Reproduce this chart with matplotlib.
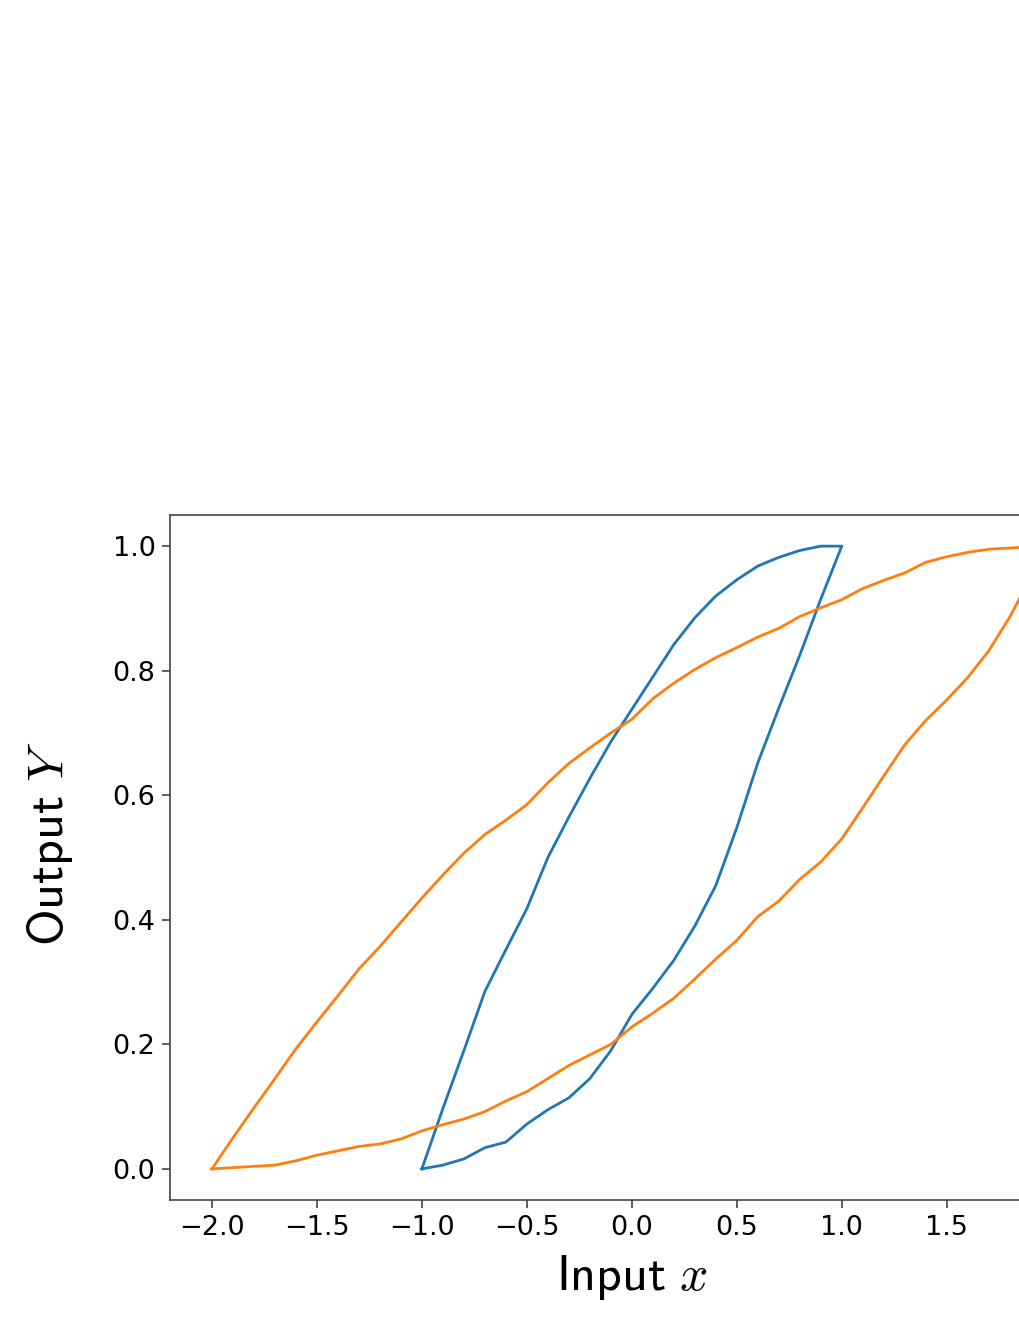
import matplotlib
matplotlib.use('Agg')
import matplotlib.pyplot as plt
import numpy as np

plt.rcParams['mathtext.fontset'] = 'cm'

# blue loop, input swept between -1 and 1
blue_x = [-1.0, -0.9, -0.8, -0.7, -0.6, -0.5, -0.4, -0.3, -0.2, -0.1, 0.0,
          0.1, 0.2, 0.3, 0.4, 0.5, 0.6, 0.7, 0.8, 0.9, 1.0]
blue_up = [0.0, 0.006, 0.016, 0.034, 0.043, 0.072, 0.095, 0.114, 0.145, 0.19, 0.248,
           0.29, 0.335, 0.39, 0.455, 0.548, 0.652, 0.74, 0.825, 0.915, 1.0]      # rising branch
blue_down = [0.0, 0.097, 0.19, 0.285, 0.352, 0.418, 0.5, 0.565, 0.627, 0.686, 0.738,
             0.79, 0.842, 0.885, 0.92, 0.946, 0.968, 0.982, 0.993, 1.0, 1.0]     # falling branch

# orange loop, input swept between -2 and 2
orange_x = [-2.0, -1.9, -1.8, -1.7, -1.6, -1.5, -1.4, -1.3, -1.2, -1.1, -1.0,
            -0.9, -0.8, -0.7, -0.6, -0.5, -0.4, -0.3, -0.2, -0.1, 0.0,
            0.1, 0.2, 0.3, 0.4, 0.5, 0.6, 0.7, 0.8, 0.9, 1.0,
            1.1, 1.2, 1.3, 1.4, 1.5, 1.6, 1.7, 1.8, 1.9, 2.0]
orange_up = [0.0, 0.002, 0.004, 0.006, 0.013, 0.022, 0.029, 0.036, 0.04, 0.048, 0.061,
             0.071, 0.08, 0.092, 0.109, 0.124, 0.145, 0.166, 0.183, 0.2, 0.228,
             0.25, 0.274, 0.305, 0.337, 0.367, 0.405, 0.43, 0.465, 0.493, 0.53,
             0.58, 0.631, 0.681, 0.72, 0.753, 0.789, 0.832, 0.886, 0.95, 1.0]
orange_down = [0.0, 0.05, 0.098, 0.145, 0.193, 0.236, 0.278, 0.321, 0.357, 0.396, 0.435,
               0.472, 0.507, 0.537, 0.56, 0.585, 0.62, 0.651, 0.676, 0.7, 0.722,
               0.755, 0.78, 0.802, 0.821, 0.837, 0.854, 0.868, 0.887, 0.901, 0.914,
               0.932, 0.945, 0.957, 0.974, 0.983, 0.99, 0.995, 0.997, 0.999, 1.0]

x_ticks = [-2.0, -1.5, -1.0, -0.5, 0.0, 0.5, 1.0, 1.5]   # 2.0 falls off the crop
y_ticks = [0.0, 0.2, 0.4, 0.6, 0.8, 1.0]

fig = plt.figure(figsize=(10.2, 13.2), dpi=100)
# axes runs past the right edge of the picture (reference is cropped)
ax = fig.add_axes([170 / 1020, 120 / 1320, 923.7 / 1020, 685 / 1320])

# go up the rising branch, then back along the falling one
bx = blue_x + blue_x[::-1]
by = blue_up + blue_down[::-1]
ox = orange_x + orange_x[::-1]
oy = orange_up + orange_down[::-1]
ax.plot(bx, by, color='#1f77b4', lw=2)
ax.plot(ox, oy, color='#ff7f0e', lw=2)

ax.set_xlim(-2.2, 2.2)
ax.set_ylim(-0.05, 1.05)
ax.set_xticks(x_ticks)
ax.set_yticks(y_ticks)
ax.tick_params(labelsize=19.5, length=5.5, width=1.2, pad=5, color='#444444')
for s in ax.spines.values():
    s.set_color('#444444')
    s.set_linewidth(1.2)

ax.set_xlabel(r'$\mathsf{Input}\ x$', fontsize=36)
ax.set_ylabel(r'$\mathsf{Output}\ Y$', fontsize=36)
ax.xaxis.set_label_coords(0.5, -0.078)
ax.yaxis.set_label_coords(-0.103, 0.52)

plt.savefig('out.png', dpi=100)
plt.close()
